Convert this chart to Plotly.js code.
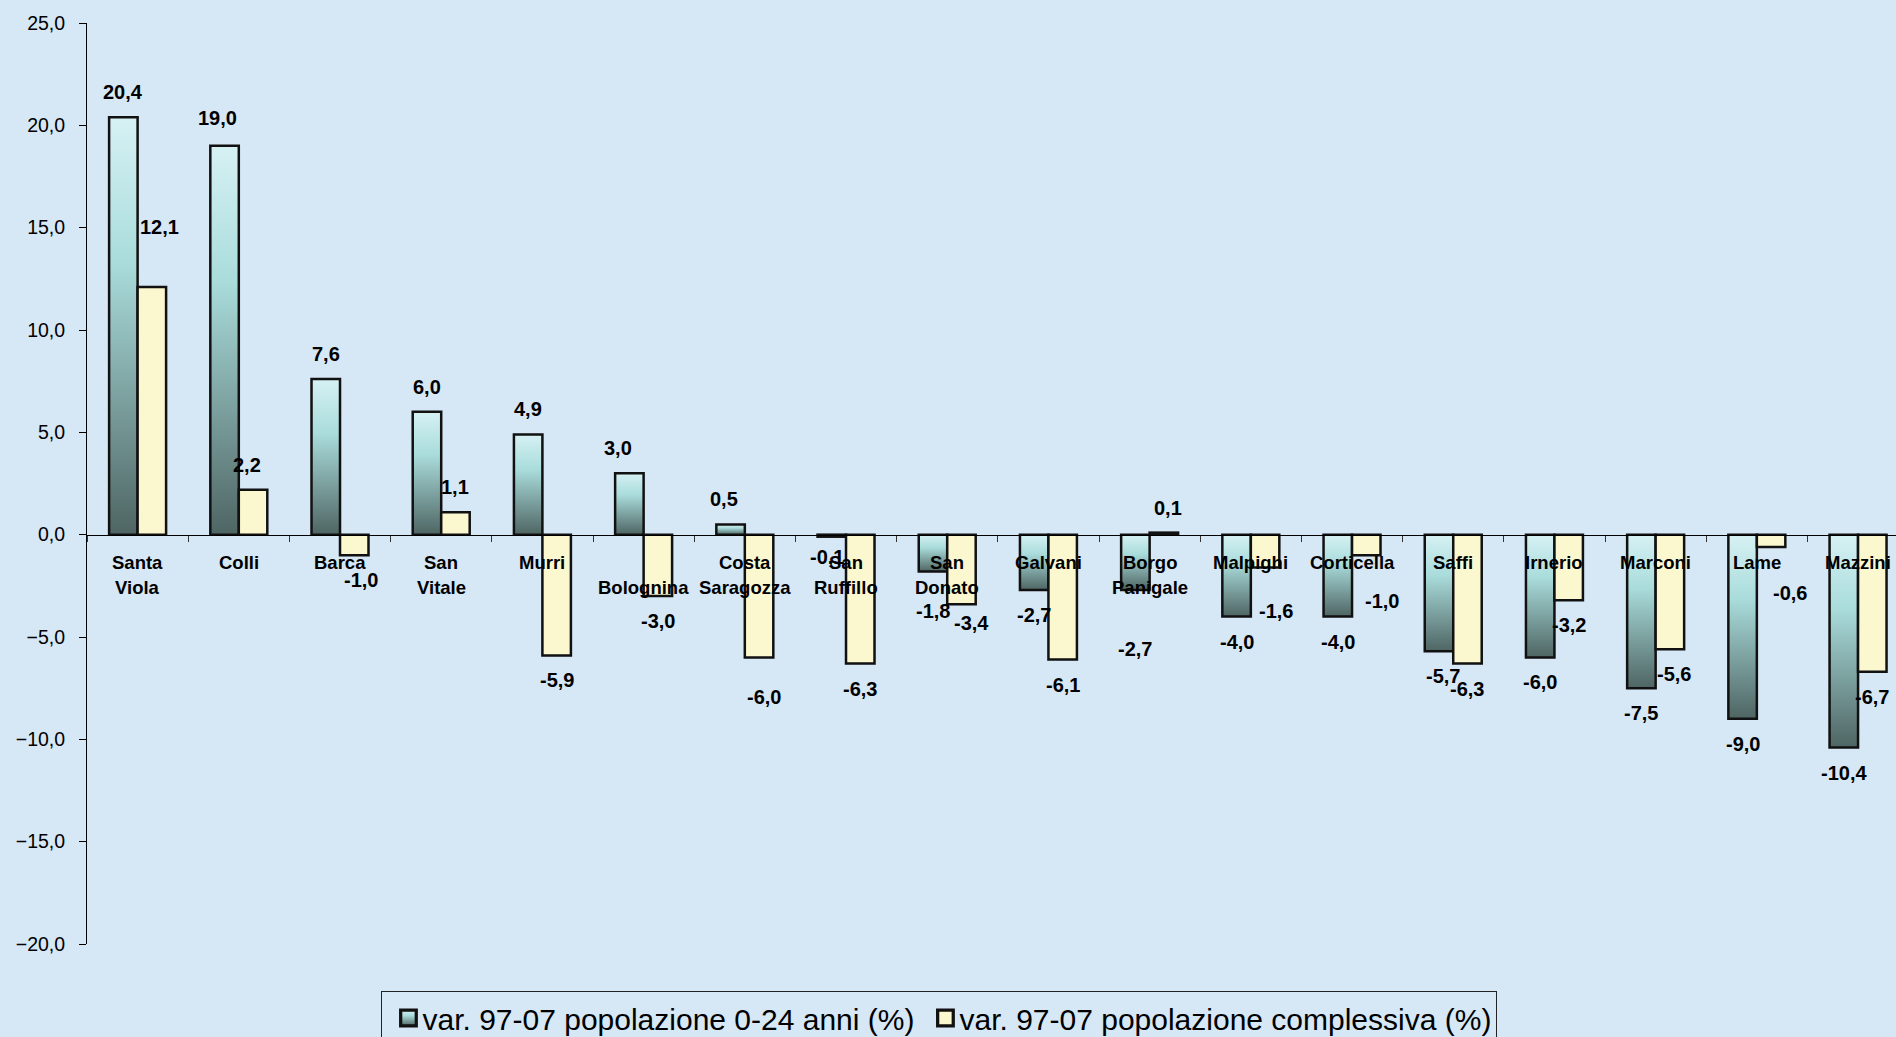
<!DOCTYPE html>
<html>
<head>
<meta charset="utf-8">
<script src="https://cdn.plot.ly/plotly-3.0.1.min.js"></script>
<style>
  html, body { margin: 0; padding: 0; background: #d7e8f6; }
  #chart { width: 1896px; height: 1037px; }
</style>
</head>
<body>
<div id="chart"></div>
<script>
// ---- data ----
const categories = ["Santa Viola", "Colli", "Barca", "San Vitale", "Murri", "Bolognina",
  "Costa Saragozza", "San Ruffillo", "San Donato", "Galvani", "Borgo Panigale", "Malpighi",
  "Corticella", "Saffi", "Irnerio", "Marconi", "Lame", "Mazzini"];
const tickLabels = ["Santa<br>Viola", "Colli", "Barca", "San<br>Vitale", "Murri", "<br>Bolognina",
  "Costa<br>Saragozza", "San<br>Ruffillo", "San<br>Donato", "Galvani", "Borgo<br>Panigale", "Malpighi",
  "Corticella", "Saffi", "Irnerio", "Marconi", "Lame", "Mazzini"];
const seriesNames = ["var. 97-07 popolazione 0-24 anni (%)", "var. 97-07 popolazione complessiva (%)"];
const young = [20.4, 19.0, 7.6, 6.0, 4.9, 3.0, 0.5, -0.1, -1.8, -2.7, -2.7, -4.0, -4.0, -5.7, -6.0, -7.5, -9.0, -10.4];
const total = [12.1, 2.2, -1.0, 1.1, -5.9, -3.0, -6.0, -6.3, -3.4, -6.1, 0.1, -1.6, -1.0, -6.3, -3.2, -5.6, -0.6, -6.7];
const yTicks = [-20, -15, -10, -5, 0, 5, 10, 15, 20, 25];

// ---- style (label nudges in px: [dx, dy]) ----
const nudgeYoung = {1: [-7, -3], 5: [-11, 0], 6: [-7, 0], 7: [-5, -5], 8: [0, 14], 10: [0, 34], 13: [4, 0]};
const nudgeTotal = {0: [8, -35], 1: [-6, 0], 2: [7, 0], 6: [5, 15], 8: [10, -6], 10: [4, 0],
  11: [11, 19], 12: [16, 21], 15: [4, 0], 16: [19, 21]};
const FONT = "Liberation Sans, Arial, sans-serif";
const BAR_OFF = 0.1408;
const LABEL_GAP = 25;

const fmt = v => v.toFixed(1).replace('.', ',');

const traces = [
  {type: 'bar', name: seriesNames[0], x: categories, y: young,
   marker: {color: '#9cc6c6', line: {color: '#111', width: 2.5}}, hoverinfo: 'skip'},
  {type: 'bar', name: seriesNames[1], x: categories, y: total,
   marker: {color: '#fbf8d0', line: {color: '#111', width: 2.5}}, hoverinfo: 'skip'}
];

const annotations = [];
function addValueLabels(vals, off, nudge) {
  vals.forEach((v, i) => {
    const n = nudge[i] || [0, 0];
    annotations.push({
      x: i + off, y: v, xref: 'x', yref: 'y', text: fmt(v), showarrow: false,
      xanchor: 'center', yanchor: 'middle',
      xshift: n[0], yshift: (v >= 0 ? LABEL_GAP : -LABEL_GAP) - n[1],
      font: {family: FONT, size: 20, color: '#000', weight: 700}
    });
  });
}
addValueLabels(young, -BAR_OFF, nudgeYoung);
addValueLabels(total, BAR_OFF, nudgeTotal);

tickLabels.forEach((t, i) => {
  t.split('<br>').forEach((line, k) => {
    if (!line) return;
    annotations.push({
      x: i, y: 0, xref: 'x', yref: 'y', text: line, showarrow: false,
      xanchor: 'center', yanchor: 'middle', yshift: -28 - 25 * k,
      font: {family: FONT, size: 18.5, color: '#000', weight: 700}
    });
  });
});

const layout = {
  width: 1896, height: 1037,
  margin: {l: 87, r: 0, t: 23, b: 93},
  paper_bgcolor: '#d6e7f6', plot_bgcolor: 'rgba(0,0,0,0)',
  separators: ',.',
  barmode: 'group', bargap: 0.437, bargroupgap: 0,
  showlegend: true,
  legend: {
    orientation: 'h', xref: 'container', yref: 'container',
    x: 0.4955, xanchor: 'center', y: 0.0444, yanchor: 'top',
    bordercolor: '#222', borderwidth: 1, bgcolor: 'rgba(0,0,0,0)',
    font: {family: FONT, size: 30, color: '#000'}, traceorder: 'normal'
  },
  xaxis: {
    type: 'category', range: [-0.5, 17.375], anchor: 'free', position: 20 / 45,
    showline: true, linecolor: '#000', linewidth: 1,
    ticks: 'outside', tickson: 'boundaries', ticklen: 6, tickcolor: '#333', tickwidth: 1,
    showticklabels: false, showgrid: false, zeroline: false, fixedrange: true
  },
  yaxis: {
    range: [-20, 25], tickvals: yTicks, tickformat: '.1f',
    showline: true, linecolor: '#000', linewidth: 1,
    ticks: 'outside', ticklen: 7, tickcolor: '#000',
    ticklabelstandoff: 10,
    tickfont: {family: FONT, size: 19.5, color: '#000'},
    showgrid: false, zeroline: false, fixedrange: true
  },
  annotations: annotations
};

const gd = document.getElementById('chart');
Plotly.newPlot(gd, traces, layout, {displayModeBar: false, staticPlot: true}).then(() => {
  const ns = 'http://www.w3.org/2000/svg';
  const svg = gd.querySelector('svg.main-svg');
  let defs = svg.querySelector('defs');
  if (!defs) { defs = document.createElementNS(ns, 'defs'); svg.insertBefore(defs, svg.firstChild); }
  const grad = document.createElementNS(ns, 'linearGradient');
  grad.setAttribute('id', 'blueGrad');
  grad.setAttribute('x1', '0'); grad.setAttribute('y1', '0');
  grad.setAttribute('x2', '0'); grad.setAttribute('y2', '1');
  [['0', '#d6f1f4'], ['0.35', '#a9dcdb'], ['1', '#4e6563']].forEach(([o, c]) => {
    const s = document.createElementNS(ns, 'stop');
    s.setAttribute('offset', o); s.setAttribute('stop-color', c);
    grad.appendChild(s);
  });
  defs.appendChild(grad);
  const barTraces = gd.querySelectorAll('.barlayer .trace');
  if (barTraces[0]) barTraces[0].querySelectorAll('path').forEach(p => { p.style.fill = 'url(#blueGrad)'; });
  const legTraces = gd.querySelectorAll('.legend .traces');
  legTraces.forEach((lt, idx) => {
    lt.querySelectorAll('.legendpoints path').forEach(p => {
      if (idx === 0) p.style.fill = 'url(#blueGrad)';
      try {
        const bb = p.getBBox();
        const cx = bb.x + bb.width / 2, cy = bb.y + bb.height / 2;
        const old = p.getAttribute('transform') || '';
        p.setAttribute('transform', old + ` translate(${6 + cx},${cy}) scale(1.3) translate(${-cx},${-cy})`);
      } catch (e) {}
    });
  });
});
</script>
</body>
</html>
